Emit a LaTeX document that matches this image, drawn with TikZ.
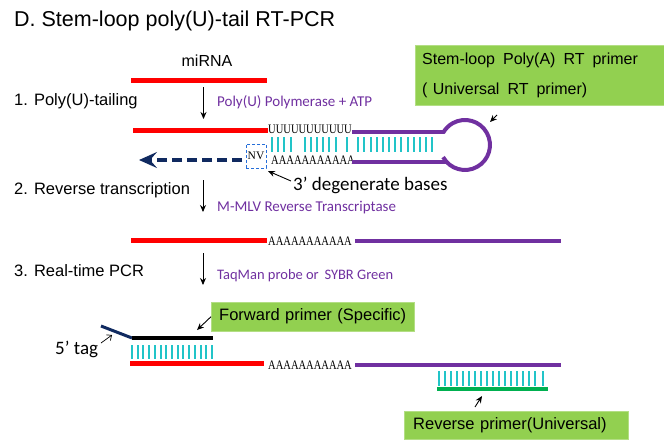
\documentclass[tikz,border=0pt]{standalone}
\usepackage{fontspec}
\setmainfont{Liberation Sans}
\newfontfamily\bodyfont{Carlito}
\newfontfamily\basefont{Liberation Serif}
\usepackage{tikz}
\usetikzlibrary{arrows.meta}
\definecolor{boxgreen}{HTML}{92D050}
\definecolor{strandpurple}{HTML}{7030A0}
\definecolor{tagnavy}{HTML}{102A60}
\definecolor{rungcyan}{HTML}{22C4C8}
\definecolor{primergreen}{HTML}{00B050}
\newcommand{\strandtext}[1]{\scalebox{0.81}[1]{#1}}
\tikzset{
  lab/.style={anchor=west, inner sep=0pt, font=\fontsize{16.5}{18}\selectfont},
  enzyme/.style={anchor=west, inner sep=0pt, text=strandpurple, font=\bodyfont\fontsize{15}{17}\selectfont},
  note/.style={anchor=west, inner sep=0pt, font=\bodyfont\fontsize{19}{21}\selectfont},
  bases/.style={anchor=west, inner sep=0pt, font=\basefont\fontsize{13}{14}\selectfont},
  greenbox/.style={anchor=north west, fill=boxgreen, draw=boxgreen!70!white, align=left, inner sep=0pt, font=\fontsize{16.5}{18}\selectfont},
  redline/.style={red, line width=5pt},
  purpleline/.style={strandpurple, line width=4pt},
  rung/.style={rungcyan, line width=2pt},
  pointer/.style={-{Stealth[length=7pt, width=6pt]}, black, line width=0.9pt},
}
\begin{document}
\begin{tikzpicture}[x=1pt, y=-1pt]
  \useasboundingbox (0,0) rectangle (664,445);

  \node [anchor=west, inner sep=0pt, font=\fontsize{21.5}{23}\selectfont] (title) at (14,21) {D. Stem-loop poly(U)-tail RT-PCR};

  % miRNA
  \node [inner sep=0pt, font=\fontsize{16}{18}\selectfont] (mirna) at (207,61) {miRNA};
  \coordinate (m1) at (131,80);
  \coordinate (m2) at (267,80);
  \draw [redline] (m1) -- (m2);

  % step 1
  \node [lab] (step1) at (14,101) {1. Poly(U)-tailing};
  \node [enzyme] (enz1) at (217,102) {Poly(U) Polymerase + ATP};
  \coordinate (a1) at (203.5,87);
  \coordinate (a2) at (203.5,119);
  \draw [pointer] (a1) -- (a2);

  \coordinate (r1) at (133,130);
  \coordinate (r2) at (268,130);
  \draw [redline] (r1) -- (r2);
  \node [bases] (uuu) at (268,129) {\strandtext{UUUUUUUUUUU}};
  \node [bases] (aaa1) at (271,160) {\strandtext{AAAAAAAAAAA}};
  \coordinate (st1) at (352,132);
  \coordinate (st2) at (444,132);
  \coordinate (sb1) at (352,162);
  \coordinate (sb2) at (447,162);
  \coordinate (loopa) at (443.1,157.1);
  \draw [purpleline] (st1) -- (st2);
  \draw [purpleline] (sb1) -- (sb2);
  \draw [purpleline] (loopa) arc (151:-151:25);
  \foreach \x in {272,278,284,290.5,305,311,317,323,329,336,347}
    \draw [rung] (\x,137) -- (\x,152);
  \foreach \x in {358,364,371,377,383,389,395,401,408,414,420,426,432}
    \draw [rung] (\x,137) -- (\x,152);

  \node [draw=blue!60!cyan!70!gray, densely dashed, line width=0.5pt, minimum width=20pt, minimum height=24pt, inner sep=0pt, font=\basefont\fontsize{11.5}{12}\selectfont] (nv) at (256,156) {NV};
  \coordinate (d1) at (242,160);
  \coordinate (d2) at (139,160);
  \draw [tagnavy, line width=3.5pt, dash pattern=on 10pt off 5pt, -{Stealth[length=18pt, width=16pt, inset=7pt]}] (d1) -- (d2);

  \node [note] (degen) at (293,185) {3’ degenerate bases};
  \coordinate (nvtip) at (268,171);
  \draw [pointer] (degen.west) ++(-2,-4) -- (nvtip);

  \node [greenbox, font=\fontsize{16}{18}\selectfont, minimum width=249pt, minimum height=60pt, text width=249pt] (loopbox) at (415,45) {\hspace*{7pt}Stem-loop\, Poly(A)\, RT\, primer\\[12pt]\hspace*{7pt}( Universal\, RT\, primer)};
  \coordinate (l1) at (497,115);
  \coordinate (l2) at (490,122);
  \draw [pointer] (l1) -- (l2);

  % step 2
  \node [lab] (step2) at (14,190) {2. Reverse transcription};
  \node [enzyme] (enz2) at (217,208) {M-MLV Reverse Transcriptase};
  \coordinate (b1) at (203,180);
  \coordinate (b2) at (203,212);
  \draw [pointer] (b1) -- (b2);

  \coordinate (s1) at (131,240);
  \coordinate (s2) at (267,240);
  \coordinate (s3) at (355,241);
  \coordinate (s4) at (561,241);
  \draw [redline] (s1) -- (s2);
  \node [bases] (aaa2) at (268,241) {\strandtext{AAAAAAAAAAA}};
  \draw [purpleline] (s3) -- (s4);

  % step 3
  \node [lab] (step3) at (14,271) {3. Real-time PCR};
  \node [enzyme, font=\bodyfont\fontsize{14.5}{16}\selectfont] (enz3) at (217,276) {TaqMan probe or\, SYBR Green};
  \coordinate (c1) at (203,253);
  \coordinate (c2) at (203,285);
  \draw [pointer] (c1) -- (c2);

  % forward primer
  \node [greenbox, minimum width=203pt, minimum height=29pt, text width=203pt] (fwdbox) at (211,302) {\hspace*{8pt}Forward primer (Specific)};
  \coordinate (t1) at (101,326);
  \coordinate (t2) at (132,338);
  \coordinate (t3) at (213,338);
  \coordinate (f1) at (197,330);
  \draw [pointer] (fwdbox.west) -- (f1);
  \draw [tagnavy, line width=3pt] (t1) -- (t2);
  \draw [black, line width=3.5pt] (t2) -- (t3);
  \foreach \x in {132,138,143,149,155,161,166,172,178,183,189,195,201,206,212}
    \draw [rung, line width=1.5pt] (\x,345) -- (\x,359);

  \node [note] (tag) at (55,349) {5’ tag};
  \coordinate (g1) at (101,343);
  \coordinate (g2) at (112,335);
  \draw [-{Straight Barb[length=4pt, width=7pt]}, black, line width=0.7pt] (g1) -- (g2);

  \coordinate (u1) at (130,363);
  \coordinate (u2) at (264,363);
  \coordinate (u3) at (355,365);
  \coordinate (u4) at (561,365);
  \draw [redline] (u1) -- (u2);
  \node [bases] (aaa3) at (268,365) {\strandtext{AAAAAAAAAAA}};
  \draw [purpleline] (u3) -- (u4);

  % reverse primer
  \foreach \x in {439,445,451,457,463,469,475,481,487,493,499,505,511,517,523,529,535,543}
    \draw [rung] (\x,371) -- (\x,386);
  \coordinate (v1) at (437,389);
  \coordinate (v2) at (548,389);
  \draw [primergreen, line width=4pt] (v1) -- (v2);
  \node [greenbox, minimum width=224pt, minimum height=28pt, text width=224pt] (revbox) at (404,411) {\hspace*{9pt}Reverse primer(Universal)};
  \coordinate (w1) at (475,407);
  \coordinate (w2) at (482,396);
  \draw [pointer] (w1) -- (w2);
\end{tikzpicture}
\end{document}
